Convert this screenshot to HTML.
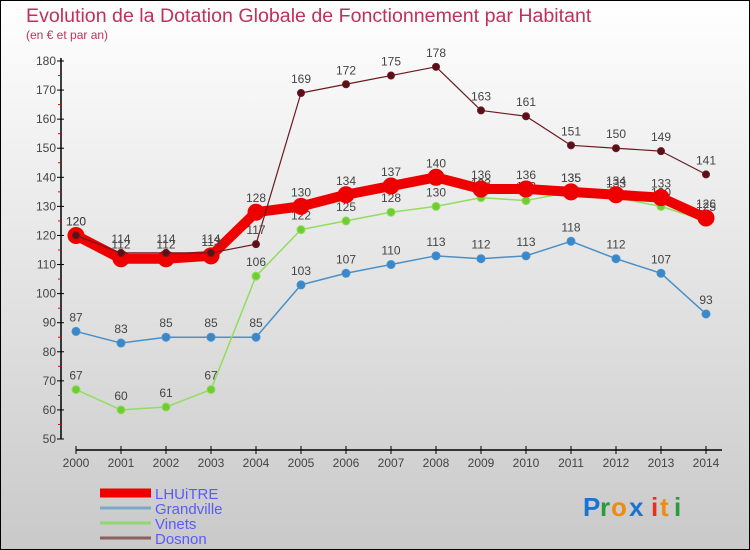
<!DOCTYPE html>
<html><head><meta charset="utf-8"><style>
body{margin:0;width:750px;height:550px;overflow:hidden;font-family:"Liberation Sans",sans-serif}
svg{display:block}
</style></head><body>
<svg id="chart" width="750" height="550" xmlns="http://www.w3.org/2000/svg">
<defs><linearGradient id="bg" x1="0" y1="0" x2="0" y2="1"><stop offset="0" stop-color="#ffffff"/><stop offset="1" stop-color="#c9c9c9"/></linearGradient></defs>
<rect x="0.5" y="0.5" width="749" height="549" fill="url(#bg)" stroke="#000"/>
<text x="26" y="22" font-size="19.6" fill="#c0305a">Evolution de la Dotation Globale de Fonctionnement par Habitant</text>
<text x="26" y="39" font-size="12" fill="#c0305a">(en € et par an)</text>
<g id="axes"></g><g id="series"></g><g id="legend"></g>
<g font-size="26" font-weight="bold">
<text x="583" y="516" fill="#1a73d0">P</text><text x="600" y="516" fill="#2a9a3a">r</text><text x="611" y="516" fill="#f08a10">o</text><text x="629" y="516" fill="#1a73d0">x</text><text x="651" y="516" fill="#e8301a">i</text><text x="660" y="516" fill="#f08a10">t</text><text x="674" y="516" fill="#2a9a3a">i</text>
</g>
</svg>
<script>
const years=[2000,2001,2002,2003,2004,2005,2006,2007,2008,2009,2010,2011,2012,2013,2014];
const yTicks=[50,60,70,80,90,100,110,120,130,140,150,160,170,180];
const lhuitre=[120,112,112,113,128,130,134,137,140,136,136,135,134,133,126];
const grandville=[87,83,85,85,85,103,107,110,113,112,113,118,112,107,93];
const vinets=[67,60,61,67,106,122,125,128,130,133,132,135,133,130,125];
const dosnon=[120,114,114,114,117,169,172,175,178,163,161,151,150,149,141];
const NS="http://www.w3.org/2000/svg";
const X=i=>76+i*45;
const Y=v=>439-(v-50)*(378/130);
function mk(tag,attrs,parent){const e=document.createElementNS(NS,tag);for(const k in attrs)e.setAttribute(k,attrs[k]);parent.appendChild(e);return e;}
const axes=document.getElementById('axes');
let a=mk('line',{x1:61,y1:58,x2:61,y2:439,stroke:'#000','stroke-width':1.5},axes);


a=mk('line',{x1:76,y1:450,x2:722,y2:450,stroke:'#000','stroke-width':1.5},axes);


yTicks.forEach((v,i)=>{
  mk('line',{x1:57,y1:Y(v),x2:64,y2:Y(v),stroke:'#000'},axes);
  if(i<yTicks.length-1)mk('line',{x1:58,y1:Y(v+5),x2:61,y2:Y(v+5),stroke:'#e00'},axes);
  const t=mk('text',{x:56,y:Y(v)+4,'font-size':12,fill:'#444','text-anchor':'end'},axes);
  t.textContent=v;
  
  
});
years.forEach((yr,i)=>{
  mk('line',{x1:X(i),y1:446,x2:X(i),y2:454,stroke:'#000'},axes);
  const t=mk('text',{x:X(i),y:467,'font-size':12,fill:'#444','text-anchor':'middle'},axes);
  t.textContent=yr;
  
  
});
const ser=document.getElementById('series');
function draw(name,data,color,w,r,mfill){
  const g=mk('g',{},ser);
  
  
  const pl=mk('polyline',{points:data.map((v,i)=>X(i)+','+Y(v)).join(' '),fill:'none',stroke:color,'stroke-width':w,'stroke-linejoin':'round'},g);
  
  
  data.forEach((v,i)=>{
    const c=mk('circle',{cx:X(i),cy:Y(v),r:r,fill:mfill,stroke:color,'stroke-width':1},g);
    
    
    const t=mk('text',{x:X(i),y:Y(v)-10,'font-size':12,fill:'#444','text-anchor':'middle'},g);
    t.textContent=v;
    
    
  });
}
draw('grandville',grandville,'#4a90c8',1.5,4,'#3a88cc');
draw('vinets',vinets,'#90dd60',1.5,4,'#70cc30');
draw('lhuitre',lhuitre,'#ee0000',10,8,'#ee0000');
draw('dosnon',dosnon,'#6a1a20',1.2,3.5,'#5a1018');
const lg=document.getElementById('legend');
[['LHUiTRE','#ee0000',9],['Grandville','#7aaac8',3],['Vinets','#90d870',3],['Dosnon','#8a6060',3]].forEach((e,i)=>{
  const y=493+i*15;
  const l=mk('line',{x1:100,y1:y,x2:151,y2:y,stroke:e[1],'stroke-width':e[2]},lg);
  
  
  const t=mk('text',{x:155,y:y+6,'font-size':15,fill:'#5a5aff'},lg);
  t.textContent=e[0];
  
  
});
</script>
</body></html>
